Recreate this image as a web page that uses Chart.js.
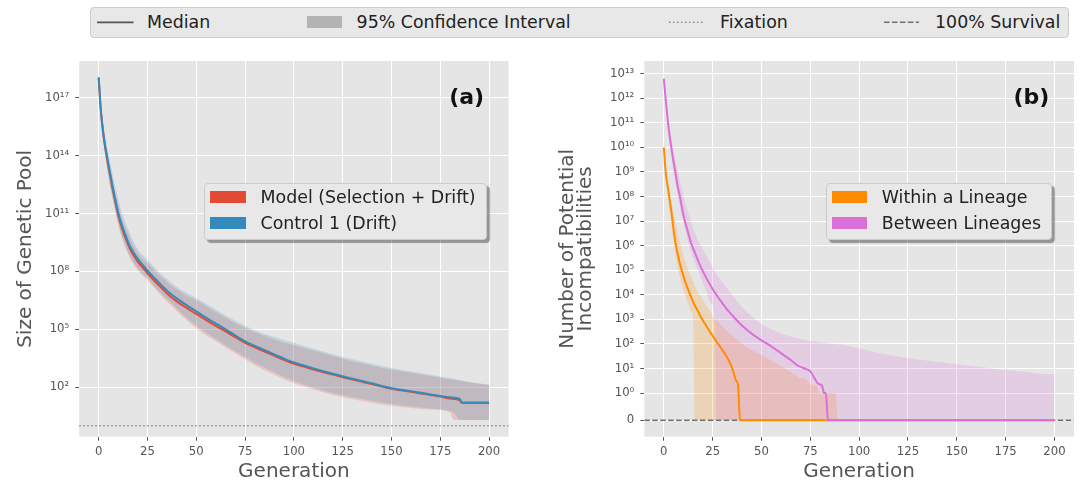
<!DOCTYPE html>
<html>
<head>
<meta charset="utf-8">
<script src="https://cdn.jsdelivr.net/npm/chart.js@4.4.1/dist/chart.umd.min.js"></script>
<style>
  body { margin: 0; background: #fff; font-family: "DejaVu Sans", sans-serif; }
  #fig { position: relative; width: 1082px; height: 485px; overflow: hidden; }
  canvas { position: absolute; top: 40px; }
  .box { position: absolute; box-sizing: border-box; background: #E8E8E8; border: 1px solid #CCC; border-radius: 4px; }
  .shadow { box-shadow: 3px 3px 1px rgba(0, 0, 0, 0.35); }
  .txt { position: absolute; font-size: 17.4px; line-height: 26px; color: #222; white-space: nowrap; }
  .patch { position: absolute; width: 35.5px; height: 12.3px; }
  .tag { position: absolute; width: 100px; text-align: right; font-weight: bold; font-size: 22px; line-height: 22px; color: #111; }
</style>
</head>
<body>
<div id="fig">
  <div class="box" style="left:90px; top:7px; width:979px; height:31px;"></div>
  <svg style="position:absolute; left:0; top:0;" width="1082" height="45">
    <line x1="97" y1="22.3" x2="133.5" y2="22.3" stroke="#555" stroke-width="1.8"/>
    <line x1="669" y1="22.3" x2="704" y2="22.3" stroke="#888" stroke-width="1.5" stroke-dasharray="1.5 2.5"/>
    <line x1="884" y1="22.3" x2="919" y2="22.3" stroke="#707070" stroke-width="1.5" stroke-dasharray="5.55 2.4"/>
  </svg>
  <div class="txt" style="left:147px; top:9.3px;">Median</div>
  <div class="patch" style="left:306.5px; top:16.2px; background:#B3B3B3;"></div>
  <div class="txt" style="left:356.6px; top:9.3px;">95% Confidence Interval</div>
  <div class="txt" style="left:720px; top:9.3px;">Fixation</div>
  <div class="txt" style="left:935px; top:9.3px;">100% Survival</div>

  <canvas id="poolChart" width="540" height="445" style="left:0;"></canvas>
  <canvas id="incompChart" width="542" height="445" style="left:540px;"></canvas>

  <div class="tag" style="left:384.2px; top:86.3px;">(a)</div>
  <div class="tag" style="left:949.4px; top:86.3px;">(b)</div>

  <div class="box shadow" style="left:204px; top:183px; width:283px; height:57px;"></div>
  <div class="patch" style="left:210px; top:191.2px; background:#E24A33;"></div>
  <div class="txt" style="left:260.5px; top:184.3px;">Model (Selection + Drift)</div>
  <div class="patch" style="left:210px; top:217.2px; background:#348ABD;"></div>
  <div class="txt" style="left:260.5px; top:210.3px;">Control 1 (Drift)</div>

  <div class="box shadow" style="left:825.5px; top:183px; width:226px; height:57px;"></div>
  <div class="patch" style="left:831.7px; top:191.2px; background:#FF8C00;"></div>
  <div class="txt" style="left:881.8px; top:184.3px;">Within a Lineage</div>
  <div class="patch" style="left:831.7px; top:217.2px; background:#DA70D6;"></div>
  <div class="txt" style="left:881.8px; top:210.3px;">Between Lineages</div>
</div>
<script>
// ---- (a) size of genetic pool ----
const poolMedianGen = [0, 1, 2, 3, 4, 5, 6, 7, 8, 10, 12, 14, 16, 18, 20, 22, 25, 30, 35, 40, 45, 50, 55, 60, 65, 70, 75, 80, 85, 90, 95, 100, 105, 110, 115, 120, 125, 130, 135, 140, 145, 150, 155, 160, 165, 170, 175, 180, 185, 186, 200];
const modelMedian = [1.1e18, 2.5e16, 2.4e15, 4e14, 1e14, 2.7e13, 7.5e12, 2.1e12, 7e11, 8e10, 1.6e10, 4.6e9, 1.5e9, 6.5e8, 3.2e8, 1.8e8, 8e7, 2.3e7, 7.2e6, 2.8e6, 1.3e6, 6.3e5, 3e5, 1.5e5, 7.8e4, 3.9e4, 2e4, 1.17e4, 7e3, 4.3e3, 2.6e3, 1650, 1170, 830, 600, 450, 330, 250, 190, 145, 110, 83, 69, 58, 48, 40, 33, 26, 21, 16, 16];
const control1Median = [1.1e18, 3e16, 3e15, 5e14, 1.3e14, 3.5e13, 1e13, 2.8e12, 9e11, 1.1e11, 2.2e10, 6.3e9, 2e9, 9e8, 4.5e8, 2.5e8, 1.1e8, 3.2e7, 1e7, 4e6, 1.8e6, 8.5e5, 4e5, 2e5, 1e5, 4.8e4, 2.4e4, 1.4e4, 8.3e3, 5e3, 3e3, 1.9e3, 1350, 950, 680, 500, 370, 275, 210, 160, 118, 89, 74, 63, 52, 42, 35, 30, 25, 16, 16];
const poolBandGen = [0, 1, 2, 4, 6, 8, 10, 12, 15, 20, 25, 30, 35, 40, 45, 50, 60, 70, 80, 90, 100, 110, 120, 130, 140, 150, 160, 170, 180, 182, 185, 190, 200];
const modelLow = [1e18, 1.6e16, 1.26e15, 3e13, 2e12, 2e11, 2.5e10, 5e9, 8e8, 1.1e8, 3.5e7, 9e6, 2.8e6, 9e5, 3e5, 1.1e5, 2.4e4, 5.6e3, 1.4e3, 450, 160, 76, 40, 24, 16, 11, 8.5, 7, 5, 2, 2, 2, 2];
const modelHigh = [1.2e18, 5.6e16, 6.3e15, 2.5e14, 2e13, 2e12, 2.8e11, 5.6e10, 9e9, 9e8, 2.8e8, 8e7, 2.8e7, 1.2e7, 5.6e6, 3.2e6, 8e5, 2.1e5, 7e4, 3e4, 1.5e4, 8e3, 4.2e3, 2.2e3, 1.3e3, 830, 560, 380, 260, 250, 215, 178, 132];
const control1Low = [1.05e18, 2e16, 1.6e15, 4e13, 2.6e12, 2.6e11, 3.2e10, 6.3e9, 1e9, 1.4e8, 4.5e7, 1.15e7, 3.7e6, 1.2e6, 4e5, 1.5e5, 3.2e4, 7.4e3, 1.9e3, 590, 210, 95, 50, 30, 20, 13.5, 10, 8, 6, 5, 2, 2, 2];
const control1High = [1.26e18, 7e16, 8e15, 4e14, 4e13, 4e12, 5.6e11, 1e11, 1.6e10, 1.4e9, 4e8, 1.1e8, 4e7, 1.6e7, 7.6e6, 4.2e6, 1.05e6, 2.8e5, 9e4, 4e4, 2e4, 1e4, 5.2e3, 2.8e3, 1.66e3, 1e3, 660, 450, 300, 280, 240, 190, 138];
const fixationLevel = 1;

// ---- (b) potential incompatibilities ----
const withinMedianGen = [0, 1, 2, 3, 4, 5, 6, 7, 8, 9, 10, 11, 12, 13, 14, 15, 16, 17, 18, 19, 20, 22, 24, 26, 28, 30, 32, 34, 35, 36, 37, 38, 39, 200];
const withinMedian = [1e10, 8.9e8, 2.5e8, 7e7, 2e7, 4.5e6, 1.26e6, 5e5, 2.2e5, 1.1e5, 6e4, 3.3e4, 2e4, 1.26e4, 8e3, 5.2e3, 3.5e3, 2.5e3, 1.8e3, 1.2e3, 900, 500, 280, 160, 95, 56, 32, 16, 10, 5.6, 3.2, 2.1, 0, 0];
const withinBandGen = [0, 1, 2, 3, 4, 5, 6, 7, 8, 9, 10, 11, 12, 13, 14, 15, 16, 18, 20, 22, 24, 26, 28, 30, 35, 40, 45, 50, 56, 60, 65, 68, 70, 72, 74, 76, 78, 80, 88, 89];
const withinLow = [1e10, 5.6e8, 1.1e8, 2.5e7, 6.3e6, 1.4e6, 4e5, 1.4e5, 6.3e4, 3.2e4, 1.6e4, 9e3, 5.2e3, 3.2e3, 2e3, 1.26e3, 0, 0, 0, 0, 0, 0, 0, 0, 0, 0, 0, 0, 0, 0, 0, 0, 0, 0, 0, 0, 0, 0, 0, 0];
const withinHigh = [1.1e10, 1.8e9, 5.6e8, 1.8e8, 6.3e7, 2.2e7, 9e6, 3.5e6, 1.6e6, 8e5, 4e5, 2.2e5, 1.26e5, 8e4, 5e4, 3.3e4, 2.2e4, 1.1e4, 6.3e3, 3.5e3, 2e3, 1.1e3, 800, 520, 220, 100, 56, 35, 19, 12.6, 7, 5, 4, 4, 3, 2, 2, 1, 1, 0];
const betweenMedianGen = [0, 1, 2, 3, 4, 5, 6, 7, 8, 10, 12, 14, 16, 18, 20, 23, 26, 30, 33, 36, 40, 45, 50, 55, 60, 65, 69, 72, 75, 77, 79, 81, 82, 83, 84, 200];
const betweenMedian = [6.3e12, 8e11, 1.26e11, 2.8e10, 8e9, 2.5e9, 9e8, 2.8e8, 1.26e8, 1.8e7, 4.5e6, 1.26e6, 5e5, 2e5, 9e4, 3.2e4, 1.26e4, 4.5e3, 2.2e3, 1.2e3, 560, 260, 140, 80, 42, 22, 12.6, 10, 7.6, 4.2, 2.4, 2, 1, 1, 0, 0];
const betweenBandGen = [0, 1, 2, 3, 4, 5, 6, 8, 10, 12, 14, 16, 18, 20, 22, 24, 26, 27, 30, 35, 40, 45, 50, 56, 65, 73, 85, 92, 100, 112, 125, 137, 150, 162, 175, 187, 195, 200];
const betweenLow = [5.6e12, 5e11, 7e10, 1.4e10, 3.5e9, 1e9, 3.5e8, 5e7, 9e6, 2e6, 5.6e5, 2e5, 8e4, 3.2e4, 1.26e4, 4.5e3, 1.26e3, 0, 0, 0, 0, 0, 0, 0, 0, 0, 0, 0, 0, 0, 0, 0, 0, 0, 0, 0, 0, 0];
const betweenHigh = [7e12, 1.1e12, 2.2e11, 6.3e10, 2e10, 7e9, 2.8e9, 5e8, 1.1e8, 2.8e7, 9e6, 3.2e6, 1.4e6, 7e5, 3.5e5, 1.8e5, 9e4, 7e4, 3.2e4, 1e4, 3.2e3, 1.3e3, 660, 360, 200, 140, 105, 90, 66, 40, 26, 20, 15, 11.5, 8.7, 7, 6, 6];
const survivalLevel = 0;

// ---- axes ----
const genMin = -10, genMax = 210;
const genTicks = [0, 25, 50, 75, 100, 125, 150, 175, 200];
const poolMin = 0.275, poolMax = 7.9e18;
const poolTicks = [1e2, 1e5, 1e8, 1e11, 1e14, 1e17];
const incompMin = -0.6, incompMax = 3.3e13;
const incompTicks = [0, 1, 1e1, 1e2, 1e3, 1e4, 1e5, 1e6, 1e7, 1e8, 1e9, 1e10, 1e11, 1e12, 1e13];

Chart.defaults.font.family = 'DejaVu Sans';

const SUP = '⁰¹²³⁴⁵⁶⁷⁸⁹';
function powerLabel(v) {
  if (v === 0) return '0';
  const e = Math.round(Math.log10(v));
  return '10' + String(e).split('').map(d => SUP[+d]).join('');
}

// matplotlib-like symlog (linthresh 1, linscale 1, base 10)
const LINSCALE = 1 / (1 - 1 / 10);
function symlog(v) {
  const a = Math.abs(v);
  const t = a <= 1 ? a * LINSCALE : LINSCALE + Math.log10(a);
  return v < 0 ? -t : t;
}
function symexp(t) {
  const a = Math.abs(t);
  const v = a <= LINSCALE ? a / LINSCALE : Math.pow(10, a - LINSCALE);
  return t < 0 ? -v : v;
}
const LinearScale = Chart.registry.getScale('linear');
class SymlogScale extends LinearScale {
  static id = 'symlog';
  static defaults = {};
  buildTicks() {
    return incompTicks.map(v => ({ value: v }));
  }
  getPixelForValue(value) {
    const a = symlog(this.min), b = symlog(this.max);
    return this.getPixelForDecimal((symlog(value) - a) / (b - a));
  }
  getValueForPixel(pixel) {
    const a = symlog(this.min), b = symlog(this.max);
    return symexp(a + this.getDecimalForPixel(pixel) * (b - a));
  }
}
Chart.register(SymlogScale);

const panelBackground = {
  id: 'panelBackground',
  beforeDraw(chart) {
    const { ctx, chartArea: a } = chart;
    ctx.save();
    ctx.fillStyle = '#E5E5E5';
    ctx.fillRect(a.left, a.top, a.right - a.left, a.bottom - a.top);
    ctx.restore();
  }
};

const pts = (xs, ys) => xs.map((x, i) => ({ x: x, y: ys[i] }));
const tickFont = { family: 'DejaVu Sans', size: 11.7 };
const titleFont = { family: 'DejaVu Sans', size: 20 };
const grid = { color: '#fff', lineWidth: 1, tickColor: '#555', tickLength: 4, tickWidth: 1 };

function medianLine(xs, ys, color, order) {
  return { data: pts(xs, ys), borderColor: color, borderWidth: 2, pointRadius: 0, fill: false,
           cubicInterpolationMode: 'monotone', order: order };
}
function bandEdge(xs, ys, order, fillTarget, color) {
  return { data: pts(xs, ys), borderColor: 'transparent', borderWidth: 0, pointRadius: 0,
           fill: fillTarget === undefined ? false : fillTarget, backgroundColor: color || 'transparent',
           cubicInterpolationMode: 'monotone', order: order };
}
function levelLine(level, color, dash, order) {
  return { data: [{ x: genMin, y: level }, { x: genMax, y: level }], borderColor: color, borderWidth: 1.5,
           borderDash: dash, pointRadius: 0, fill: false, order: order };
}
function genAxis() {
  return {
    type: 'linear', min: genMin, max: genMax,
    afterBuildTicks: s => { s.ticks = genTicks.map(v => ({ value: v })); },
    afterFit: s => { s.height = 48.3; },
    ticks: { font: tickFont, color: '#555', padding: 4, maxRotation: 0, autoSkip: false },
    grid: grid, border: { display: false },
    title: { display: true, text: 'Generation', font: titleFont, color: '#555', padding: { top: 0, bottom: 1 } }
  };
}
const common = {
  responsive: false, animation: false, devicePixelRatio: 1,
  plugins: { legend: { display: false }, tooltip: { enabled: false } },
  elements: { point: { radius: 0 } }
};

new Chart(document.getElementById('poolChart'), {
  type: 'line',
  data: {
    datasets: [
      medianLine(poolMedianGen, control1Median, '#348ABD', 0),
      medianLine(poolMedianGen, modelMedian, '#E24A33', 1),
      levelLine(fixationLevel, '#888', [1.5, 2.5], 2),
      bandEdge(poolBandGen, control1Low, 5),
      bandEdge(poolBandGen, control1High, 4, 3, 'rgba(52, 138, 189, 0.2)'),
      bandEdge(poolBandGen, modelLow, 7),
      bandEdge(poolBandGen, modelHigh, 6, 5, 'rgba(226, 74, 51, 0.2)')
    ]
  },
  options: Object.assign({}, common, {
    layout: { padding: { left: 0, right: 31.4, top: 21, bottom: 0 } },
    scales: {
      x: genAxis(),
      y: {
        type: 'logarithmic', min: poolMin, max: poolMax,
        afterBuildTicks: s => { s.ticks = poolTicks.map(v => ({ value: v })); },
        afterFit: s => { s.width = 79.2; },
        ticks: { font: tickFont, color: '#555', padding: 6, callback: v => powerLabel(v) },
        grid: grid, border: { display: false },
        title: { display: true, text: 'Size of Genetic Pool', font: titleFont, color: '#555',
                 padding: { top: 13.4, bottom: 0 } }
      }
    }
  }),
  plugins: [panelBackground]
});

new Chart(document.getElementById('incompChart'), {
  type: 'line',
  data: {
    datasets: [
      medianLine(betweenMedianGen, betweenMedian, '#DA70D6', 0),
      medianLine(withinMedianGen, withinMedian, '#FF8C00', 1),
      levelLine(survivalLevel, '#707070', [5.55, 2.4], 2),
      bandEdge(betweenBandGen, betweenLow, 5),
      bandEdge(betweenBandGen, betweenHigh, 4, 3, 'rgba(218, 112, 214, 0.2)'),
      bandEdge(withinBandGen, withinLow, 7),
      bandEdge(withinBandGen, withinHigh, 6, 5, 'rgba(255, 140, 0, 0.2)')
    ]
  },
  options: Object.assign({}, common, {
    layout: { padding: { left: 0, right: 8, top: 21, bottom: 0 } },
    scales: {
      x: genAxis(),
      y: {
        type: 'symlog', min: incompMin, max: incompMax,
        afterFit: s => { s.width = 104.3; },
        ticks: { font: tickFont, color: '#555', padding: 6, callback: v => powerLabel(v) },
        grid: grid, border: { display: false },
        title: { display: true, text: ['Number of Potential', 'Incompatibilities'],
                 font: { family: 'DejaVu Sans', size: 20, lineHeight: 0.91 }, color: '#555',
                 padding: { top: 18.6, bottom: 0 } }
      }
    }
  }),
  plugins: [panelBackground]
});
</script>
</body>
</html>
